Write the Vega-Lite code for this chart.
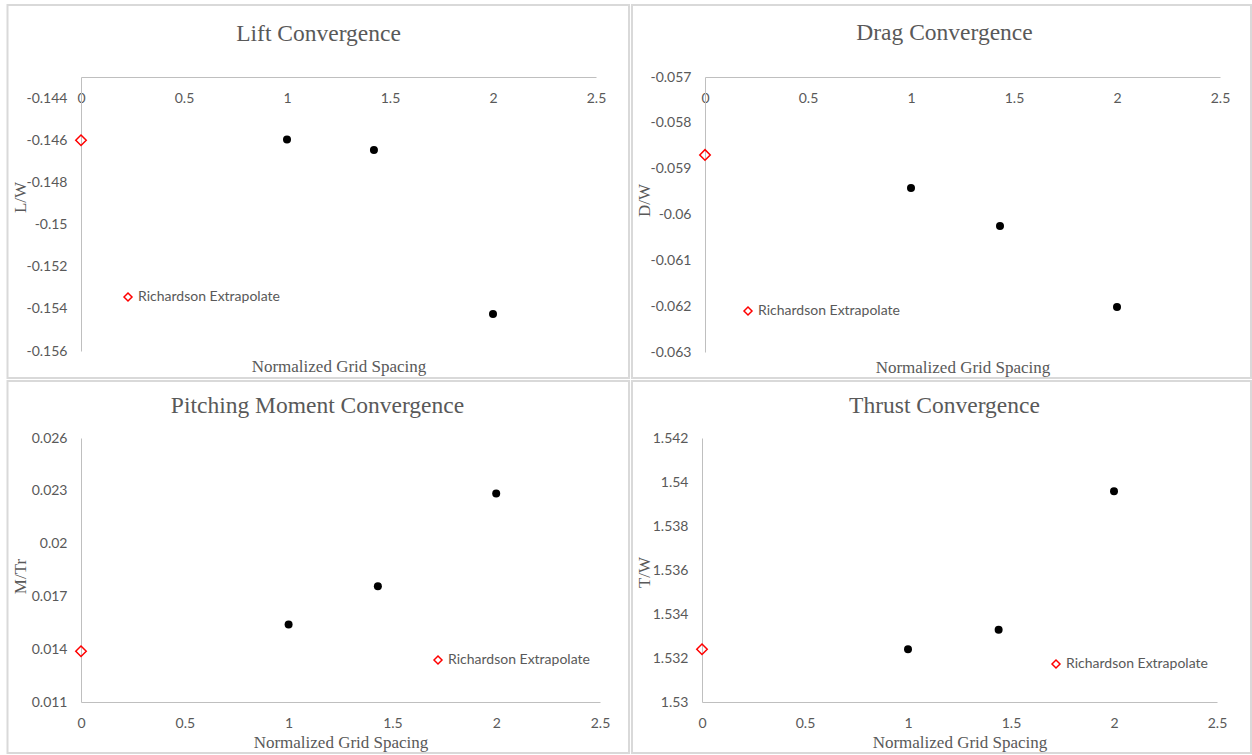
{
  "$schema": "https://vega.github.io/schema/vega-lite/v6.json",
  "autosize": {"type": "none"},
  "padding": {"left": 81, "top": 77, "right": 1171, "bottom": 678},
  "background": "white",
  "bounds": "flush",
  "spacing": 361,
  "config": {
    "view": {"stroke": null},
    "font": "Lato",
    "axis": {"domainColor": "#bfbfbf", "domainWidth": 1, "ticks": false, "tickSize": 0, "grid": false, "labelFont": "Lato", "labelFontSize": 14, "labelColor": "#595959", "labelOverlap": false, "labelFlush": false, "titleFont": "Liberation Serif", "titleFontSize": 17, "titleFontWeight": "normal", "titleColor": "#595959"},
    "title": {"font": "Liberation Serif", "fontSize": 23.5, "fontWeight": "normal", "color": "#595959", "frame": "group", "anchor": "middle"},
    "legend": {"orient": "none", "title": null, "labelFont": "Lato", "labelFontSize": 14, "labelColor": "#595959", "symbolSize": 64, "symbolStrokeWidth": 1.5, "padding": 0, "labelOffset": 3, "symbolType": "diamond"}
  },
  "resolve": {"scale": {"color": "independent"}, "legend": {"color": "independent"}},
  "vconcat": [
    {
      "bounds": "flush",
      "spacing": 109,
      "resolve": {"scale": {"color": "independent"}, "legend": {"color": "independent"}},
      "hconcat": [
        {
          "width": 515, "height": 274,
          "title": {"text": "Lift Convergence", "dx": -20, "offset": -41},
          "data": {"values": [
            {"h": 0, "v": -0.146, "series": "Richardson Extrapolate"},
            {"h": 1, "v": -0.14597, "series": "Grid"},
            {"h": 1.422, "v": -0.14646, "series": "Grid"},
            {"h": 2, "v": -0.15425, "series": "Grid"}
          ]},
          "encoding": {
            "x": {"field": "h", "type": "quantitative", "scale": {"domain": [0, 2.5], "nice": false, "zero": false},
              "axis": {"orient": "top", "values": [0, 0.5, 1, 1.5, 2, 2.5], "labelExpr": "toString(datum.value)", "labelBaseline": "middle", "labelPadding": -21, "title": "Normalized Grid Spacing", "titleY": 289, "titleBaseline": "middle"}},
            "y": {"field": "v", "type": "quantitative", "scale": {"domain": [-0.156, -0.143], "nice": false, "zero": false},
              "axis": {"values": [-0.156, -0.154, -0.152, -0.15, -0.148, -0.146, -0.144], "labelExpr": "toString(datum.value)", "labelPadding": 14, "title": "L/W", "titleX": -61, "titleY": 120, "titleAngle": -90, "titleBaseline": "middle", "titleAlign": "center"}}
          },
          "layer": [
            {"transform": [{"filter": "datum.series !== 'Grid'"}], "mark": {"type": "rect", "fill": "transparent", "stroke": "#d9d9d9", "strokeWidth": 2, "clip": false},
              "encoding": {"x": {"datum": -0.3568}, "x2": {"datum": 2.6602}, "y": {"datum": -0.139584}, "y2": {"datum": -0.157281}}},
            {"transform": [{"filter": "datum.series === 'Grid'"}], "mark": {"type": "point", "filled": true, "shape": "circle", "color": "black", "size": 64, "opacity": 1}},
            {"transform": [{"filter": "datum.series !== 'Grid'"}], "mark": {"type": "point", "filled": false, "shape": "diamond", "size": 110, "strokeWidth": 1.5, "opacity": 1},
              "encoding": {"color": {"field": "series", "type": "nominal", "scale": {"range": ["#ff0000"]}, "legend": {"legendX": 40, "legendY": 213}}}}
          ]
        },
        {
          "width": 515, "height": 275,
          "title": {"text": "Drag Convergence", "dx": -18, "offset": -41},
          "data": {"values": [
            {"h": 0, "v": -0.0587, "series": "Richardson Extrapolate"},
            {"h": 1, "v": -0.05942, "series": "Grid"},
            {"h": 1.432, "v": -0.06025, "series": "Grid"},
            {"h": 2, "v": -0.06202, "series": "Grid"}
          ]},
          "encoding": {
            "x": {"field": "h", "type": "quantitative", "scale": {"domain": [0, 2.5], "nice": false, "zero": false},
              "axis": {"orient": "top", "values": [0, 0.5, 1, 1.5, 2, 2.5], "labelExpr": "toString(datum.value)", "labelBaseline": "middle", "labelPadding": -21, "title": "Normalized Grid Spacing", "titleY": 290, "titleBaseline": "middle"}},
            "y": {"field": "v", "type": "quantitative", "scale": {"domain": [-0.063, -0.057], "nice": false, "zero": false},
              "axis": {"values": [-0.063, -0.062, -0.061, -0.06, -0.059, -0.058, -0.057], "labelExpr": "toString(datum.value)", "labelPadding": 14, "title": "D/W", "titleX": -61, "titleY": 123, "titleAngle": -90, "titleBaseline": "middle", "titleAlign": "center"}}
          },
          "layer": [
            {"transform": [{"filter": "datum.series !== 'Grid'"}], "mark": {"type": "rect", "fill": "transparent", "stroke": "#d9d9d9", "strokeWidth": 2, "clip": false},
              "encoding": {"x": {"datum": -0.3544}, "x2": {"datum": 2.6505}, "y": {"datum": -0.055429}, "y2": {"datum": -0.063567}}},
            {"transform": [{"filter": "datum.series === 'Grid'"}], "mark": {"type": "point", "filled": true, "shape": "circle", "color": "black", "size": 64, "opacity": 1}},
            {"transform": [{"filter": "datum.series !== 'Grid'"}], "mark": {"type": "point", "filled": false, "shape": "diamond", "size": 110, "strokeWidth": 1.5, "opacity": 1},
              "encoding": {"color": {"field": "series", "type": "nominal", "scale": {"range": ["#ff0000"]}, "legend": {"legendX": 36, "legendY": 227}}}}
          ]
        }
      ]
    },
    {
      "bounds": "flush",
      "spacing": 102,
      "resolve": {"scale": {"color": "independent"}, "legend": {"color": "independent"}},
      "hconcat": [
        {
          "width": 519, "height": 264,
          "title": {"text": "Pitching Moment Convergence", "dx": -23, "offset": -38},
          "data": {"values": [
            {"h": 0, "v": 0.01388, "series": "Richardson Extrapolate"},
            {"h": 1, "v": 0.01541, "series": "Grid"},
            {"h": 1.43, "v": 0.01758, "series": "Grid"},
            {"h": 2, "v": 0.02284, "series": "Grid"}
          ]},
          "encoding": {
            "x": {"field": "h", "type": "quantitative", "scale": {"domain": [0, 2.5], "nice": false, "zero": false},
              "axis": {"orient": "bottom", "values": [0, 0.5, 1, 1.5, 2, 2.5], "labelExpr": "toString(datum.value)", "labelBaseline": "middle", "labelPadding": 21, "title": "Normalized Grid Spacing", "titleY": 40, "titleBaseline": "middle"}},
            "y": {"field": "v", "type": "quantitative", "scale": {"domain": [0.011, 0.026], "nice": false, "zero": false},
              "axis": {"values": [0.011, 0.014, 0.017, 0.02, 0.023, 0.026], "labelExpr": "toString(datum.value)", "labelPadding": 14, "title": "M/Tr", "titleX": -61, "titleY": 138, "titleAngle": -90, "titleBaseline": "middle", "titleAlign": "center"}}
          },
          "layer": [
            {"transform": [{"filter": "datum.series !== 'Grid'"}], "mark": {"type": "rect", "fill": "transparent", "stroke": "#d9d9d9", "strokeWidth": 2, "clip": false},
              "encoding": {"x": {"datum": -0.354}, "x2": {"datum": 2.6397}, "y": {"datum": 0.029239}, "y2": {"datum": 0.008102}}},
            {"transform": [{"filter": "datum.series === 'Grid'"}], "mark": {"type": "point", "filled": true, "shape": "circle", "color": "black", "size": 64, "opacity": 1}},
            {"transform": [{"filter": "datum.series !== 'Grid'"}], "mark": {"type": "point", "filled": false, "shape": "diamond", "size": 110, "strokeWidth": 1.5, "opacity": 1},
              "encoding": {"color": {"field": "series", "type": "nominal", "scale": {"range": ["#ff0000"]}, "legend": {"legendX": 350, "legendY": 215}}}}
          ]
        },
        {
          "width": 515, "height": 264,
          "title": {"text": "Thrust Convergence", "dx": -15, "offset": -38},
          "data": {"values": [
            {"h": 0, "v": 1.5324, "series": "Richardson Extrapolate"},
            {"h": 1, "v": 1.5324, "series": "Grid"},
            {"h": 1.44, "v": 1.53328, "series": "Grid"},
            {"h": 2, "v": 1.53958, "series": "Grid"}
          ]},
          "encoding": {
            "x": {"field": "h", "type": "quantitative", "scale": {"domain": [0, 2.5], "nice": false, "zero": false},
              "axis": {"orient": "bottom", "values": [0, 0.5, 1, 1.5, 2, 2.5], "labelExpr": "toString(datum.value)", "labelBaseline": "middle", "labelPadding": 21, "title": "Normalized Grid Spacing", "titleY": 40, "titleBaseline": "middle"}},
            "y": {"field": "v", "type": "quantitative", "scale": {"domain": [1.53, 1.542], "nice": false, "zero": false},
              "axis": {"values": [1.53, 1.532, 1.534, 1.536, 1.538, 1.54, 1.542], "labelExpr": "toString(datum.value)", "labelPadding": 14, "title": "T/W", "titleX": -58, "titleY": 134, "titleAngle": -90, "titleBaseline": "middle", "titleAlign": "center"}}
          },
          "layer": [
            {"transform": [{"filter": "datum.series !== 'Grid'"}], "mark": {"type": "rect", "fill": "transparent", "stroke": "#d9d9d9", "strokeWidth": 2, "clip": false},
              "encoding": {"x": {"datum": -0.3398}, "x2": {"datum": 2.665}, "y": {"datum": 1.544591}, "y2": {"datum": 1.527682}}},
            {"transform": [{"filter": "datum.series === 'Grid'"}], "mark": {"type": "point", "filled": true, "shape": "circle", "color": "black", "size": 64, "opacity": 1}},
            {"transform": [{"filter": "datum.series !== 'Grid'"}], "mark": {"type": "point", "filled": false, "shape": "diamond", "size": 110, "strokeWidth": 1.5, "opacity": 1},
              "encoding": {"color": {"field": "series", "type": "nominal", "scale": {"range": ["#ff0000"]}, "legend": {"legendX": 347, "legendY": 219}}}}
          ]
        }
      ]
    }
  ]
}
